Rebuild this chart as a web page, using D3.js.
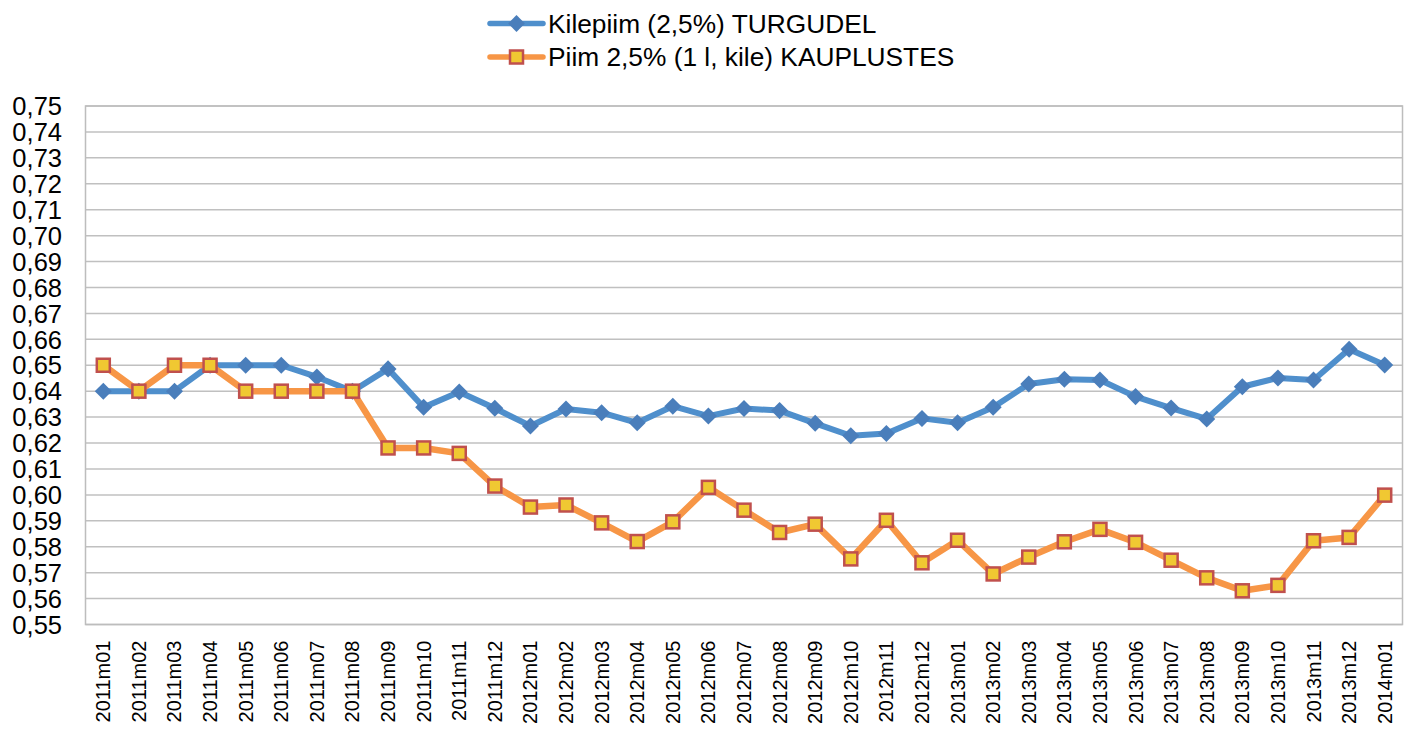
<!DOCTYPE html>
<html>
<head>
<meta charset="utf-8">
<script src="https://cdn.jsdelivr.net/npm/d3@7"></script>
<style>
  body { margin: 0; background: #fff; }
  text { font-family: "Liberation Sans", Arial, sans-serif; fill: #000; }
</style>
</head>
<body>
<div id="app"></div>
<script>
const months = ['2011m01','2011m02','2011m03','2011m04','2011m05','2011m06','2011m07','2011m08','2011m09','2011m10','2011m11','2011m12',
    '2012m01','2012m02','2012m03','2012m04','2012m05','2012m06','2012m07','2012m08','2012m09','2012m10','2012m11','2012m12',
    '2013m01','2013m02','2013m03','2013m04','2013m05','2013m06','2013m07','2013m08','2013m09','2013m10','2013m11','2013m12',
    '2014m01'];

const turgudel = [0.640, 0.640, 0.640, 0.650, 0.650, 0.650, 0.6455, 0.640, 0.6486, 0.6338, 0.6397, 0.6334,
    0.6266, 0.6331, 0.6317, 0.6278, 0.6342, 0.6304, 0.6333, 0.6325, 0.6276, 0.6228, 0.6237, 0.6295,
    0.6278, 0.6338, 0.6428, 0.6446, 0.6443, 0.6379, 0.6335, 0.6293, 0.6417, 0.6451, 0.6443, 0.6562,
    0.6501];

const kauplustes = [0.650, 0.640, 0.650, 0.650, 0.640, 0.640, 0.640, 0.640, 0.6181, 0.6181, 0.6160, 0.6034,
    0.5953, 0.5961, 0.5892, 0.5820, 0.5896, 0.6029, 0.5941, 0.5855, 0.5887, 0.5753, 0.5902, 0.5738,
    0.5825, 0.5695, 0.5760, 0.5819, 0.5867, 0.5817, 0.5748, 0.5680, 0.5630, 0.5651, 0.5823, 0.5836,
    0.5999];

const yTicks = [0.55, 0.56, 0.57, 0.58, 0.59, 0.60, 0.61, 0.62, 0.63, 0.64, 0.65,
    0.66, 0.67, 0.68, 0.69, 0.70, 0.71, 0.72, 0.73, 0.74, 0.75];

const seriesNames = ['Kilepiim (2,5%) TURGUDEL', 'Piim 2,5% (1 l, kile) KAUPLUSTES'];

const width = 1411;
const height = 729;
const margin = { top: 106, right: 8.5, bottom: 104.5, left: 85.5 };

const svg = d3.select('#app').append('svg')
    .attr('width', width).attr('height', height);

const x = d3.scaleBand().domain(months)
    .range([margin.left, width - margin.right]).padding(0);
const y = d3.scaleLinear().domain([0.55, 0.75])
    .range([height - margin.bottom, margin.top]);
const cx = d => x(d) + x.bandwidth() / 2;

// grid lines
svg.append('g').selectAll('line').data(yTicks).join('line')
    .attr('x1', margin.left).attr('x2', width - margin.right)
    .attr('y1', d => y(d)).attr('y2', d => y(d))
    .attr('stroke', '#c0c0c0').attr('stroke-width', 1.5);

// plot frame
svg.append('rect')
    .attr('x', margin.left).attr('y', margin.top)
    .attr('width', width - margin.left - margin.right)
    .attr('height', height - margin.top - margin.bottom)
    .attr('fill', 'none').attr('stroke', '#bdbdbd').attr('stroke-width', 1.5);

// y axis labels
const fmt = d3.format('.2f');
svg.append('g').selectAll('text').data(yTicks).join('text')
    .attr('x', 62).attr('y', d => y(d))
    .attr('dy', '0.36em')
    .attr('text-anchor', 'end')
    .style('font-size', '25.5px')
    .text(d => fmt(d).replace('.', ','));

// x axis labels
svg.append('g').selectAll('text').data(months).join('text')
    .attr('transform', d => `translate(${cx(d)},${height - margin.bottom + 16}) rotate(-90)`)
    .attr('dy', '0.35em')
    .attr('text-anchor', 'end')
    .style('font-size', '20px')
    .text(d => d);

const line = d3.line().x((d, i) => cx(months[i])).y(d => y(d));

const blueLine = '#4f8fcc', blueMark = '#4a7ebb';
const orangeLine = '#f79646', squareFill = '#f0c832', squareEdge = '#c0504d';

// series 1: blue with diamonds
svg.append('path').datum(turgudel)
    .attr('fill', 'none').attr('stroke', blueLine).attr('stroke-width', 6)
    .attr('stroke-linejoin', 'round').attr('d', line);

const diamond = d3.symbol().type(d3.symbolDiamond2).size(185);
svg.append('g').selectAll('path').data(turgudel).join('path')
    .attr('transform', (d, i) => `translate(${cx(months[i])},${y(d)})`)
    .attr('d', diamond)
    .attr('fill', blueMark);

// series 2: orange with squares
svg.append('path').datum(kauplustes)
    .attr('fill', 'none').attr('stroke', orangeLine).attr('stroke-width', 6.5)
    .attr('stroke-linejoin', 'round').attr('d', line);

svg.append('g').selectAll('rect').data(kauplustes).join('rect')
    .attr('x', (d, i) => cx(months[i]) - 6.5)
    .attr('y', d => y(d) - 6.5)
    .attr('width', 13).attr('height', 13)
    .attr('fill', squareFill)
    .attr('stroke', squareEdge).attr('stroke-width', 2.5);

// legend
const legend = svg.append('g');
const lx1 = 490, lx2 = 543, lmid = 516.5;
[0, 1].forEach(i => {
    const ly = i === 0 ? 23.5 : 57;
    legend.append('line')
        .attr('x1', lx1).attr('x2', lx2).attr('y1', ly).attr('y2', ly)
        .attr('stroke', i === 0 ? blueLine : orangeLine)
        .attr('stroke-width', 5.5).attr('stroke-linecap', 'round');
    if (i === 0) {
        legend.append('path')
            .attr('transform', `translate(${lmid},${ly})`)
            .attr('d', d3.symbol().type(d3.symbolDiamond2).size(180)).attr('fill', blueMark);
    } else {
        legend.append('rect')
            .attr('x', lmid - 6.5).attr('y', ly - 6.5)
            .attr('width', 13).attr('height', 13)
            .attr('fill', squareFill).attr('stroke', squareEdge).attr('stroke-width', 2.5);
    }
    legend.append('text')
        .attr('x', 548).attr('y', ly).attr('dy', '0.36em')
        .style('font-size', '26.3px')
        .text(seriesNames[i]);
});
</script>
</body>
</html>
